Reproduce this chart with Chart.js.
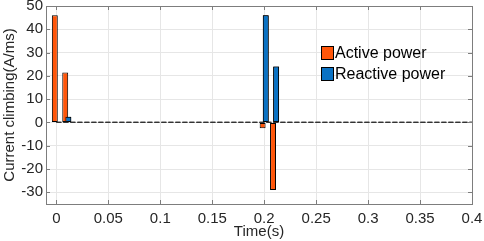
<!DOCTYPE html>
<html>
<head>
<meta charset="utf-8">
<script src="https://cdn.jsdelivr.net/npm/chart.js@4/dist/chart.umd.min.js"></script>
<style>
    html, body { margin: 0; padding: 0; background: #ffffff; }
    #wrap { position: relative; width: 484px; height: 241px; }
</style>
</head>
<body>
<div id="wrap"><canvas id="chart" width="484" height="241"></canvas></div>
<script>
// Values
const timeValues = [0, 0.01, 0.2, 0.21];
const activePower = [46, 21.5, -2.5, -29];
const reactivePower = [null, 2.5, 46, 24];
const zeroLineX = [0, 0.4];

const xTicks = [0, 0.05, 0.1, 0.15, 0.2, 0.25, 0.3, 0.35, 0.4];
const yTicks = [-30, -20, -10, 0, 10, 20, 30, 40, 50];

const seriesNames = ['Active power', 'Reactive power'];
const seriesColors = ['#ff560a', '#0a72c4'];

const FONT = 'Liberation Sans, Arial, sans-serif';
const AXIS_COLOR = '#7d7d7d';
const GRID_COLOR = '#e6e6e6';

// MATLAB-like box: inward ticks on all four sides, reactive bars on top, legend in the plot
const boxPlugin = {
    id: 'boxPlugin',
    afterDatasetsDraw(chart) {
        const ctx = chart.ctx;
        const area = chart.chartArea;
        // reactive bars overlap active ones
        ctx.save();
        ctx.beginPath();
        ctx.rect(area.left, area.top, area.right - area.left, area.bottom - area.top);
        ctx.clip();
        chart.getDatasetMeta(1).controller.draw();
        chart.getDatasetMeta(2).controller.draw();
        ctx.restore();
    },
    afterDraw(chart) {
        const ctx = chart.ctx;
        const area = chart.chartArea;
        const xScale = chart.scales.x;
        const yScale = chart.scales.y;
        const tickLen = 4;

        ctx.save();
        ctx.strokeStyle = AXIS_COLOR;
        ctx.lineWidth = 1;
        ctx.beginPath();
        xTicks.forEach(v => {
            const px = Math.round(xScale.getPixelForValue(v)) + 0.5;
            ctx.moveTo(px, area.bottom);
            ctx.lineTo(px, area.bottom - tickLen);
            ctx.moveTo(px, area.top);
            ctx.lineTo(px, area.top + tickLen);
        });
        yTicks.forEach(v => {
            const py = Math.round(yScale.getPixelForValue(v)) + 0.5;
            ctx.moveTo(area.left, py);
            ctx.lineTo(area.left + tickLen, py);
            ctx.moveTo(area.right, py);
            ctx.lineTo(area.right - tickLen, py);
        });
        ctx.stroke();
        ctx.strokeRect(Math.round(area.left) + 0.5, Math.round(area.top) + 0.5,
            Math.round(area.right - area.left), Math.round(area.bottom - area.top));

        // legend
        ctx.font = '16px ' + FONT;
        ctx.textBaseline = 'middle';
        seriesNames.forEach((name, i) => {
            const top = 46 + i * 21;
            ctx.fillStyle = seriesColors[i];
            ctx.fillRect(321, top, 13, 14);
            ctx.strokeStyle = '#000000';
            ctx.strokeRect(321.5, top + 0.5, 12, 13);
            ctx.fillStyle = '#000000';
            ctx.fillText(name, 335, top + 7.5);
        });
        ctx.restore();
    }
};

const barStyle = {
    borderColor: '#000000',
    borderWidth: 1,
    borderSkipped: false,
    categoryPercentage: 0.6,
    barPercentage: 1.9,
};

const context = document.getElementById('chart').getContext('2d');
const chart = new Chart(context, {
    type: 'bar',
    data: {
        datasets: [
            {
                label: seriesNames[0],
                data: timeValues.map((t, i) => ({ x: t, y: activePower[i] })),
                backgroundColor: seriesColors[0],
                ...barStyle
            },
            {
                label: seriesNames[1],
                data: timeValues.map((t, i) => ({ x: t, y: reactivePower[i] })),
                backgroundColor: seriesColors[1],
                ...barStyle
            },
            {
                type: 'line',
                label: 'zero',
                data: zeroLineX.map(t => ({ x: t, y: 0 })),
                borderColor: '#333333',
                borderWidth: 1.3,
                borderDash: [5, 2],
                pointRadius: 0
            }
        ]
    },
    options: {
        responsive: false,
        animation: false,
        layout: {
            padding: { top: 6, right: 12, left: 0, bottom: 0 }
        },
        scales: {
            x: {
                type: 'linear',
                offset: false,
                min: -0.01,
                max: 0.4,
                afterBuildTicks: scale => {
                    scale.ticks = xTicks.map(v => ({ value: v }));
                },
                afterFit: scale => {
                    scale.height = 37;
                    scale.paddingLeft = 0;
                    scale.paddingRight = 0;
                },
                grid: {
                    color: GRID_COLOR,
                    offset: false,
                    drawTicks: false
                },
                border: { display: false },
                ticks: {
                    color: '#262626',
                    padding: 6,
                    maxRotation: 0,
                    autoSkip: false,
                    font: { family: FONT, size: 15 },
                    callback: value => String(value)
                },
                title: {
                    display: true,
                    text: 'Time(s)',
                    color: '#262626',
                    padding: 0,
                    font: { family: FONT, size: 15 }
                }
            },
            y: {
                min: -35,
                max: 50,
                afterBuildTicks: scale => {
                    scale.ticks = yTicks.map(v => ({ value: v }));
                },
                afterFit: scale => {
                    scale.width = 46;
                    scale.paddingTop = 0;
                    scale.paddingBottom = 0;
                },
                grid: {
                    color: GRID_COLOR,
                    drawTicks: false
                },
                border: { display: false },
                ticks: {
                    color: '#262626',
                    padding: 3,
                    font: { family: FONT, size: 15 }
                },
                title: {
                    display: true,
                    text: 'Current climbing(A/ms)',
                    color: '#262626',
                    padding: 1,
                    font: { family: FONT, size: 15 }
                }
            }
        },
        plugins: {
            legend: { display: false },
            tooltip: { enabled: false }
        }
    },
    plugins: [boxPlugin]
});
</script>
</body>
</html>
